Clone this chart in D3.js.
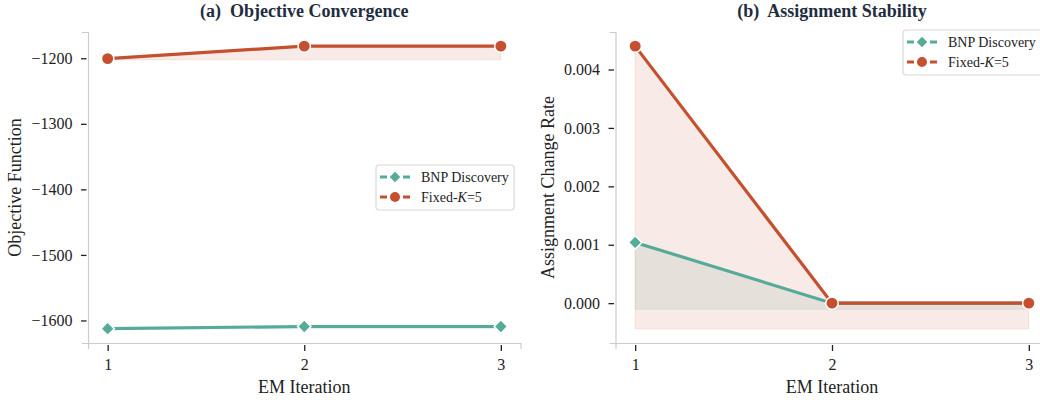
<!DOCTYPE html>
<html><head><meta charset="utf-8">
<script src="https://cdn.jsdelivr.net/npm/d3@7/dist/d3.min.js"></script>
<style>body{margin:0;background:#fff}svg{display:block}</style>
</head><body>
<svg id="c" width="1040" height="400"></svg>
<script>
const iterations = [1, 2, 3];
const objBNP = [-1612.5, -1609.2, -1609.2];
const objFixed = [-1200.5, -1181.5, -1181.5];
const rateBNP = [0.00104, 0, 0];
const rateFixed = [0.0044, 0, 0];
const seriesNames = ["BNP Discovery", "Fixed-K=5"];
const objTicks = [-1200, -1300, -1400, -1500, -1600];
const rateTicks = [0, 0.001, 0.002, 0.003, 0.004];
const titles = ["(a)  Objective Convergence", "(b)  Assignment Stability"];
const yLabels = ["Objective Function", "Assignment Change Rate"];
const xLabel = "EM Iteration";

const RED = "#c4502f", TEAL = "#55ab97";
const FONT = "'Liberation Serif','DejaVu Serif',serif";
const svg = d3.select("#c");

function panel(opts){
  const {left, right, top, bottom, bnp, fixed, ticks, fmt, title, ylabel, ylabX, legend} = opts;
  const g = svg.append("g");
  const fillBase = a => d3.min(a) - 0.1*(d3.max(a)-d3.min(a));
  const lo = Math.min(fillBase(bnp), fillBase(fixed)), hi = Math.max(d3.max(bnp), d3.max(fixed));
  const pad = 0.05*(hi-lo);
  const x = d3.scaleLinear().domain([0.9, 3.1]).range([left, right]);
  const y = d3.scaleLinear().domain([lo-pad, hi+pad]).range([bottom, top]);

  // fills
  [[bnp, TEAL], [fixed, RED]].forEach(([arr, col]) => {
    const b = fillBase(arr);
    const area = d3.area().x((d,i)=>x(iterations[i])).y0(y(b)).y1(d=>y(d));
    g.append("path").datum(arr).attr("d", area)
      .attr("fill", col).attr("fill-opacity", 0.12)
      .attr("stroke", col).attr("stroke-opacity", 0.12).attr("stroke-width", 1);
  });

  // axes
  const ax = g.append("g").attr("transform", `translate(0,${bottom})`)
    .call(d3.axisBottom(x).tickValues(iterations).tickFormat(d3.format("d")).tickSize(6).tickPadding(6));
  const ay = g.append("g").attr("transform", `translate(${left},0)`)
    .call(d3.axisLeft(y).tickValues(ticks).tickFormat(fmt).tickSize(6).tickPadding(6));
  [ax, ay].forEach(a => {
    a.select(".domain").attr("stroke", "#cccccc").attr("stroke-width", 1.2);
    a.selectAll(".tick line").attr("stroke", "#222").attr("stroke-width", 1.3);
    a.selectAll(".tick text").attr("fill", "#222").style("font-family", FONT).style("font-size", "16px");
  });
  ax.selectAll(".tick line").attr("y1", 2).attr("y2", 8);
  ax.selectAll(".tick text").attr("y", 16);
  ay.selectAll(".tick line").attr("x1", -1.5).attr("x2", -7);
  ay.selectAll(".tick text").attr("x", -15.5);

  // lines + markers
  const line = d3.line().x((d,i)=>x(iterations[i])).y(d=>y(d));
  g.append("path").datum(bnp).attr("d", line).attr("fill","none").attr("stroke", TEAL).attr("stroke-width", 3.2);
  g.selectAll(".mb").data(bnp).join("path")
    .attr("d", d3.symbol(d3.symbolSquare, 90))
    .attr("transform", (d,i)=>`translate(${x(iterations[i])},${y(d)}) rotate(45)`)
    .attr("fill", TEAL).attr("stroke", "#fff").attr("stroke-width", 1.5);
  g.append("path").datum(fixed).attr("d", line).attr("fill","none").attr("stroke", RED).attr("stroke-width", 3.2);
  g.selectAll(".mf").data(fixed).join("circle")
    .attr("cx", (d,i)=>x(iterations[i])).attr("cy", d=>y(d)).attr("r", 6.2)
    .attr("fill", RED).attr("stroke", "#fff").attr("stroke-width", 1.5);

  // title & labels
  const cx = (left+right)/2;
  g.append("text").attr("x", cx).attr("y", 17).attr("text-anchor","middle").attr("xml:space","preserve")
    .style("white-space","pre")
    .style("font-family", FONT).style("font-size","18px").style("font-weight","bold").attr("fill","#1e2d3f").text(title);
  g.append("text").attr("x", cx).attr("y", 393).attr("text-anchor","middle")
    .style("font-family", FONT).style("font-size","18px").attr("fill","#222").text(xLabel);
  g.append("text").attr("transform", `translate(${ylabX},${(top+bottom)/2}) rotate(-90)`).attr("text-anchor","middle")
    .style("font-family", FONT).style("font-size","18px").attr("fill","#222").text(ylabel);

  // legend
  const L = legend;
  const lg = g.append("g").attr("transform", `translate(${L.x},${L.y})`);
  lg.append("rect").attr("x",0).attr("y",0).attr("width",L.w).attr("height",45).attr("rx",3)
    .attr("fill","#fff").attr("fill-opacity",0.9).attr("stroke","#d8d8d8").attr("stroke-width",1.2);
  [[TEAL,"d"],[RED,"c"]].forEach(([col,m],i)=>{
    const yy = 12 + i*20;
    lg.append("line").attr("x1",4).attr("x2",34).attr("y1",yy).attr("y2",yy)
      .attr("stroke",col).attr("stroke-width",3.2).attr("stroke-dasharray","7,4.5");
    if(m==="d") lg.append("path").attr("d", d3.symbol(d3.symbolSquare, 75)).attr("transform",`translate(19,${yy}) rotate(45)`)
      .attr("fill",col).attr("stroke","#fff").attr("stroke-width",1.2);
    else lg.append("circle").attr("cx",19).attr("cy",yy).attr("r",5.6).attr("fill",col).attr("stroke","#fff").attr("stroke-width",1.2);
    const t = lg.append("text").attr("x",45).attr("y",yy+5).style("font-family",FONT).style("font-size","14px").attr("fill","#222");
    if(i===0) t.text(seriesNames[0]);
    else { t.append("tspan").text("Fixed-"); t.append("tspan").style("font-style","italic").text("K"); t.append("tspan").text("=5"); }
  });
}

panel({left:88, right:520.5, top:32, bottom:343, bnp:objBNP, fixed:objFixed, ticks:objTicks,
  fmt:d3.format("d"), title:titles[0], ylabel:yLabels[0], ylabX:21, legend:{x:376,y:165,w:138}});
panel({left:615.5, right:1048.5, top:32, bottom:343, bnp:rateBNP, fixed:rateFixed, ticks:rateTicks,
  fmt:d3.format(".3f"), title:titles[1], ylabel:yLabels[1], ylabX:554, legend:{x:903,y:30,w:140}});
</script>
</body></html>
